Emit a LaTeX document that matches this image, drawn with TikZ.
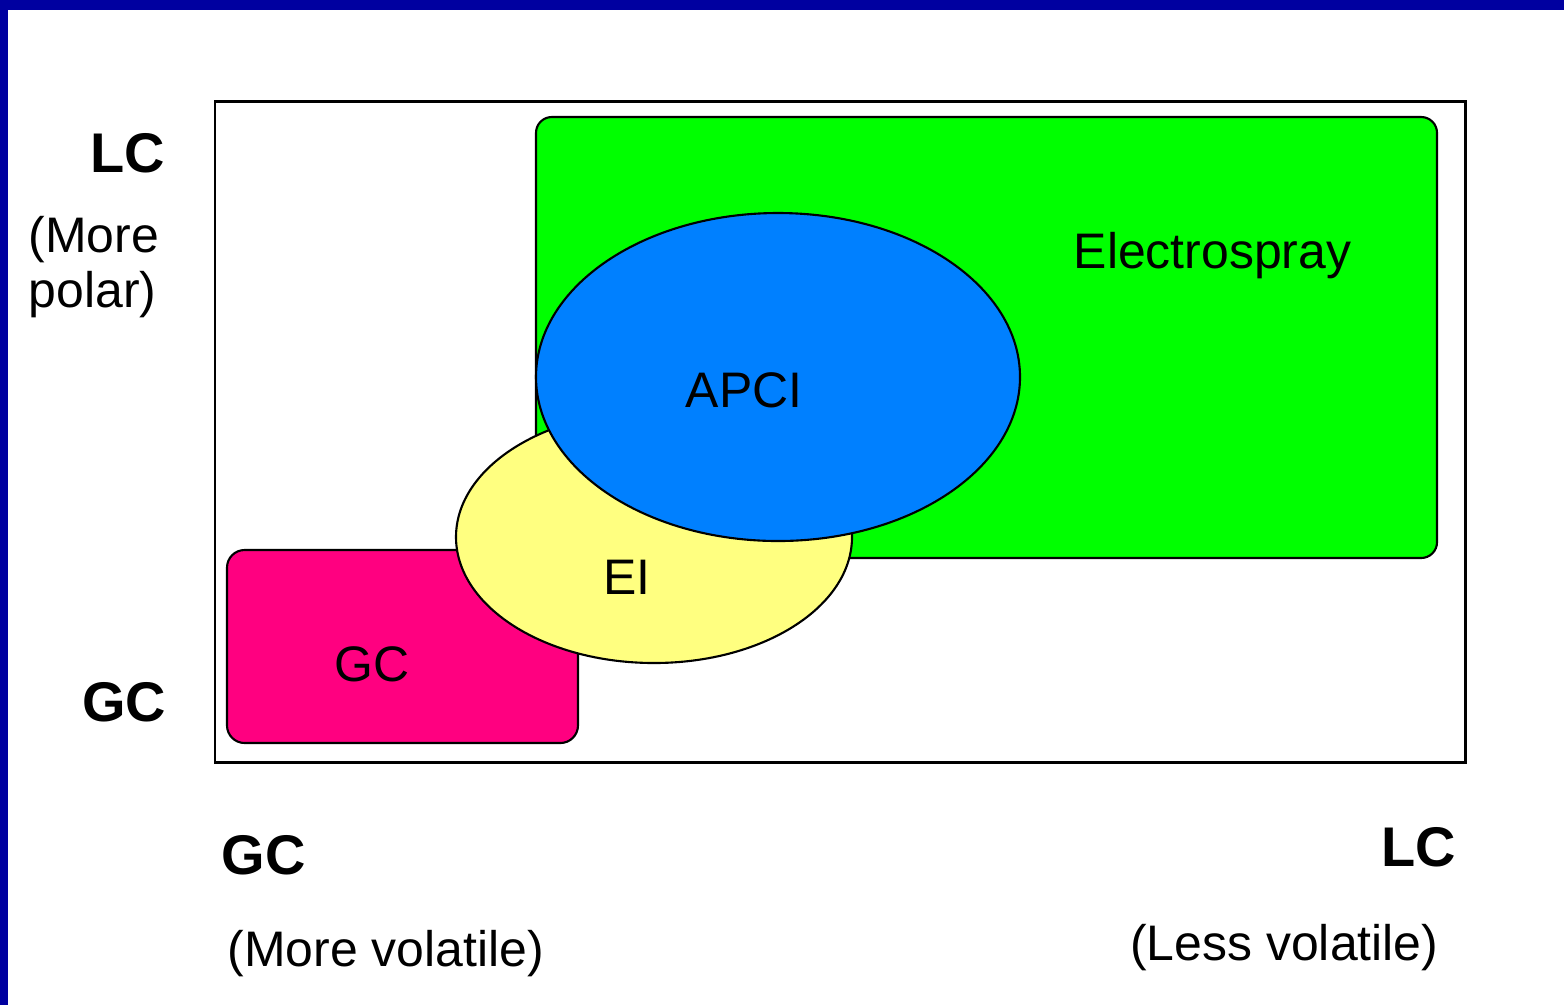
\documentclass[tikz,border=0pt]{standalone}
\usepackage{fontspec}
\setmainfont{Liberation Sans}
\definecolor{frameblue}{RGB}{0,0,160}
\definecolor{esgreen}{RGB}{0,255,0}
\definecolor{gcpink}{RGB}{255,0,128}
\definecolor{eiyellow}{RGB}{255,255,128}
\definecolor{apciblue}{RGB}{0,128,255}
\usetikzlibrary{positioning}

\begin{document}
\begin{tikzpicture}[
  x=0.01cm, y=-0.01cm,
  region/.style={draw=black, line width=0.6pt},
  axislbl/.style={font=\fontsize{15.9}{18}\bfseries\selectfont, inner sep=0pt},
  note/.style={font=\fontsize{14.2}{15.6}\selectfont, inner sep=0pt}
]
  \useasboundingbox (0,0) rectangle (1564,1005);
  %% Slide background
  \fill[frameblue] (0,0) rectangle (1564,1005);
  \fill[white] (8,10) rectangle (1564,1005);
  %% Plot frame
  \draw[line width=0.85pt] (215,101) rectangle (1465,762);
  %% Electrospray
  \filldraw[region, fill=esgreen, rounded corners=4.5pt] (536,117) rectangle (1437,558);
  \node[note, anchor=base west] (es) at (1073,268) {Electrospray};
  %% GC
  \filldraw[region, fill=gcpink, rounded corners=5pt] (227,550) rectangle (578,743);
  \node[note, anchor=base] (gc) at (372,681) {GC};
  %% EI
  \filldraw[region, fill=eiyellow] (654,537) ellipse [x radius=198, y radius=126];
  \node[note, anchor=base] (ei) at (627,594) {EI};
  %% APCI
  \filldraw[region, fill=apciblue] (778,377) ellipse [x radius=242, y radius=164];
  \node[note, anchor=base] (apci) at (744,407) {APCI};
  %% Axis labels
  \node[axislbl, anchor=base east] (lctop) at (166,172) {LC};
  \node[note, anchor=base west, align=left] (polar) at (28,307) {(More\\polar)};
  \node[axislbl, anchor=base east] (gcleft) at (167,721) {GC};
  \node[axislbl, anchor=base west] (gcbottom) at (221,874) {GC};
  \node[note, anchor=base west] (morevol) at (227,966) {(More volatile)};
  \node[axislbl, anchor=base east] (lcright) at (1457,866) {LC};
  \node[note, anchor=base east] (lessvol) at (1439,960) {(Less volatile)};
\end{tikzpicture}
\end{document}
